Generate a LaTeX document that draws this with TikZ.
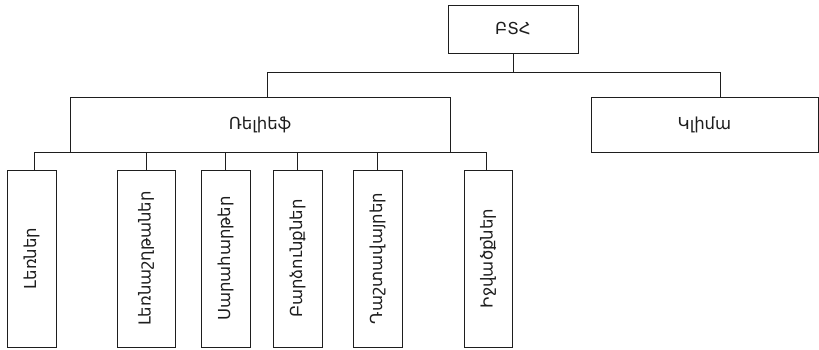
\documentclass[tikz,border=0pt]{standalone}
\usepackage{fontspec}
\setmainfont{DejaVu Sans}
\usepackage{tikz}
\usetikzlibrary{positioning,calc}
\definecolor{ink}{HTML}{1E1E1E}
\tikzset{
  box/.style={draw=ink, line width=0.8pt, fill=white, inner sep=0pt, text=ink, font=\fontsize{16.5}{18}\selectfont},
  leaf/.style={box, minimum height=177pt},
  wire/.style={draw=ink, line width=0.8pt},
}
\begin{document}
\begin{tikzpicture}[x=1pt, y=-1pt]
\useasboundingbox (0,0) rectangle (819,350);
% upper levels
\node[box, minimum width=130pt, minimum height=48pt] (bth) at (513,29) {ԲՏՀ};
\node[box, minimum width=380pt, minimum height=55pt] (relief) at (260,124.5) {Ռելիեֆ};
\node[box, minimum width=227pt, minimum height=55pt] (klima) at (704.5,124.5) {Կլիմա};
\coordinate (bus) at (0,72);
\coordinate (rtop) at ($(relief.north)+(7.5,0)$);
\coordinate (ktop) at ($(klima.north)+(15.5,0)$);
% relief forms
\node[leaf, minimum width=49pt] (lerner) at (31.5,258.5) {\rotatebox{90}{Լեռներ}};
\node[leaf, minimum width=58pt] (shghta) at (146,258.5) {\rotatebox{90}{Լեռնաշղթաներ}};
\node[leaf, minimum width=49pt] (sarahart) at (225.5,258.5) {\rotatebox{90}{Սարահարթեր}};
\node[leaf, minimum width=49pt] (bardzunq) at (297.5,258.5) {\rotatebox{90}{Բարձունքներ}};
\node[leaf, minimum width=49pt] (dasht) at (377.5,258.5) {\rotatebox{90}{Դաշտավայրեր}};
\node[leaf, minimum width=48pt] (ijvacq) at (488,258.5) {\rotatebox{90}{Իջվածքներ}};
% connectors
\draw[wire] (bth.south) -- (bth.south |- bus);
\draw[wire] (rtop) -- (rtop |- bus) -| (ktop);
\draw[wire] ($(lerner.north)+(2.5,0)$) |- (relief.south) -| ($(ijvacq.north)+(-2,0)$);
\foreach \n in {shghta,sarahart,bardzunq,dasht}
  \draw[wire] (\n.north) -- (\n.north |- relief.south);
\end{tikzpicture}
\end{document}
